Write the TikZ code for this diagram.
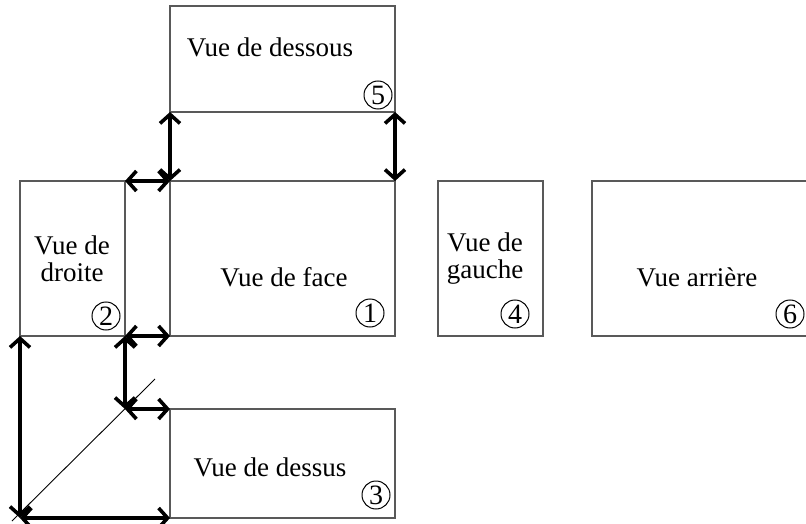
\documentclass[tikz,border=0pt]{standalone}
\usepackage{fontspec}
\setmainfont{Liberation Serif}
\usetikzlibrary{arrows.meta}
\begin{document}
\begin{tikzpicture}[x=1pt,y=-1pt,
  view/.style={draw=black!65,line width=1.2pt,anchor=north west,inner sep=0pt,outer sep=0pt,fill=none},
  lbl/.style={font=\fontsize{27}{30}\selectfont,align=center,inner sep=0pt},
  num/.style={draw,circle,line width=1pt,minimum size=28pt,inner sep=0pt,font=\fontsize{28}{30}\selectfont},
  dim/.style={line width=3.6pt,{Straight Barb[length=9pt,width=20pt]}-{Straight Barb[length=9pt,width=20pt]}},
  diag/.style={line width=0.9pt}]
\useasboundingbox (0,0) rectangle (806,524);
% view boxes
\node[view,minimum width=225pt,minimum height=106pt] (dessous) at (170,6) {};
\node[view,minimum width=225pt,minimum height=155pt] (face) at (170,181) {};
\node[view,minimum width=105pt,minimum height=155pt] (droite) at (20,181) {};
\node[view,minimum width=105pt,minimum height=155pt] (gauche) at (438,181) {};
\node[view,minimum width=230pt,minimum height=155pt] (arriere) at (592,181) {};
\node[view,minimum width=225pt,minimum height=109pt] (dessus) at (170,409) {};
% labels
\node[lbl] (tdessous) at (270,47) {Vue de dessous};
\node[lbl] (tdroite) at (72,259) {Vue de\\[-3pt]droite};
\node[lbl] (tface) at (284,277) {Vue de face};
\node[lbl] (tgauche) at (485,259) {Vue de\\[-3pt]gauche};
\node[lbl] (tarriere) at (697,277) {Vue arrière};
\node[lbl] (tdessus) at (270,467) {Vue de dessus};
% numbers
\node[num] (n5) at (378,95) {5};
\node[num] (n1) at (370,313) {1};
\node[num] (n2) at (106,316) {2};
\node[num] (n4) at (515,314) {4};
\node[num] (n6) at (790,314) {6};
\node[num] (n3) at (376,495) {3};
% construction
\coordinate (m) at (droite.south east |- dessus.north west);
\coordinate (c) at (droite.south west |- dessus.south west);
\coordinate (dA) at ([shift={(-8,3)}]c);
\coordinate (dB) at ([shift={(30,-30)}]m);
\draw[diag] (dA) -- (dB);
% dimension arrows
\draw[dim] (dessous.south west) -- (face.north west);
\draw[dim] (dessous.south east) -- (face.north east);
\draw[dim] (droite.north east) -- (face.north west);
\draw[dim] (droite.south east) -- (face.south west);
\draw[dim] (droite.south east) -- (m);
\draw[dim] (m) -- (dessus.north west);
\draw[dim] (droite.south west) -- (c);
\draw[dim] (c) -- (dessus.south west);
\end{tikzpicture}
\end{document}
